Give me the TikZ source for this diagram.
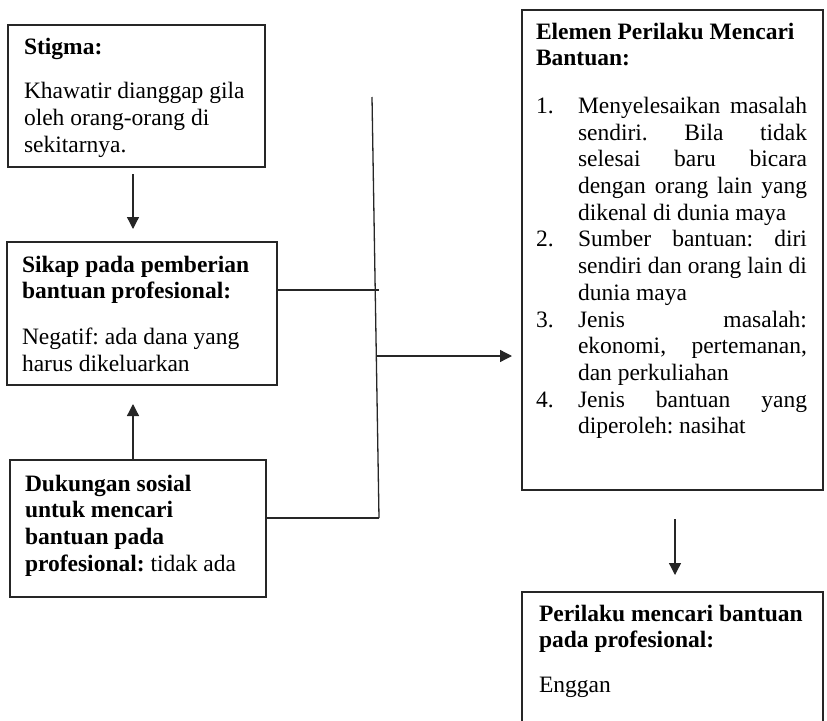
\documentclass[tikz,border=0pt]{standalone}
\usepackage{fontspec}
\setmainfont{Liberation Serif}
\usetikzlibrary{arrows.meta}
\frenchspacing

% body text size and line spacing
\newcommand{\bodysize}{\fontsize{23.5pt}{26.7pt}\selectfont}
% numbered list lines: number column + justified (s) or ragged (l) text column
\newcommand{\numline}[3][s]{\makebox[42pt][l]{#2}\makebox[229pt][#1]{#3}}
\newcommand{\contline}[2][s]{\hspace*{42pt}\makebox[229pt][#1]{#2}}

\begin{document}
\begin{tikzpicture}[x=1pt,y=-1pt,
  box/.style={draw=black!85, line width=1.3pt, rectangle, anchor=north west,
              inner sep=0pt, outer sep=0pt},
  txt/.style={anchor=base west, inner sep=0pt, outer sep=0pt, font=\bodysize},
  wire/.style={draw=black!85, line width=1.3pt},
  arr/.style={wire, -{Triangle[width=12pt,length=12pt]}}]
\useasboundingbox (0,0) rectangle (827,720);

% ---- boxes ----
\node[box, minimum width=257pt, minimum height=142pt] (stigma)   at (8,25)   {};
\node[box, minimum width=270pt, minimum height=143pt] (sikap)    at (7,242)  {};
\node[box, minimum width=256pt, minimum height=137pt] (dukungan) at (10,460) {};
\node[box, minimum width=301pt, minimum height=480pt] (elemen)   at (522,10) {};
\node[box, minimum width=301pt, minimum height=150pt] (perilaku) at (522,592) {};

% ---- texts ----
\node[txt] (stigmaText) at (24,54) {\parbox[t]{240pt}{%
  \textbf{Stigma:}\\[18pt]
  Khawatir dianggap gila\\
  oleh orang-orang di\\
  sekitarnya.}};

\node[txt] (sikapText) at (22,272) {\parbox[t]{250pt}{%
  \textbf{Sikap pada pemberian}\\
  \textbf{bantuan profesional:}\\[19pt]
  Negatif: ada dana yang\\
  harus dikeluarkan}};

\node[txt] (dukunganText) at (25,491) {\parbox[t]{240pt}{%
  \textbf{Dukungan sosial}\\
  \textbf{untuk mencari}\\
  \textbf{bantuan pada}\\
  \textbf{profesional:} tidak ada}};

\node[txt] (elemenText) at (536,39) {\parbox[t]{280pt}{%
  \textbf{Elemen Perilaku Mencari}\\
  \textbf{Bantuan:}\\[21pt]
  \numline{1.}{Menyelesaikan masalah}\\
  \contline{sendiri. Bila tidak}\\
  \contline{selesai baru bicara}\\
  \contline{dengan orang lain yang}\\
  \contline[l]{dikenal di dunia maya}\\
  \numline{2.}{Sumber bantuan: diri}\\
  \contline{sendiri dan orang lain di}\\
  \contline[l]{dunia maya}\\
  \numline{3.}{Jenis masalah:}\\
  \contline{ekonomi, pertemanan,}\\
  \contline[l]{dan perkuliahan}\\
  \numline{4.}{Jenis bantuan yang}\\
  \contline[l]{diperoleh: nasihat}}};

\node[txt] (perilakuText) at (539,621) {\parbox[t]{280pt}{%
  \textbf{Perilaku mencari bantuan}\\
  \textbf{pada profesional:}\\[18pt]
  Enggan}};

% ---- guide coordinates for connectors ----
\coordinate (colL)   at (133,0);
\coordinate (colR)   at (675,0);
\coordinate (busTop) at (372,97);
\coordinate (busBot) at (379,518);
\coordinate (rowA)   at (379,290);
\coordinate (busMid) at (377,356);

% ---- connectors ----
\draw[arr, shorten <=7pt, shorten >=13pt] (stigma.south -| colL) -- (sikap.north -| colL);
\draw[arr, shorten >=19pt] (dukungan.north -| colL) -- (sikap.south -| colL);
\draw[wire] (busTop) -- (busBot);
\draw[wire] (sikap.east |- rowA) -- (rowA);
\draw[wire] (dukungan.east |- busBot) -- (busBot);
\draw[arr, shorten >=10pt] (busMid) -- (elemen.west |- busMid);
\draw[arr, shorten <=29pt, shorten >=17pt] (elemen.south -| colR) -- (perilaku.north -| colR);
\end{tikzpicture}
\end{document}
